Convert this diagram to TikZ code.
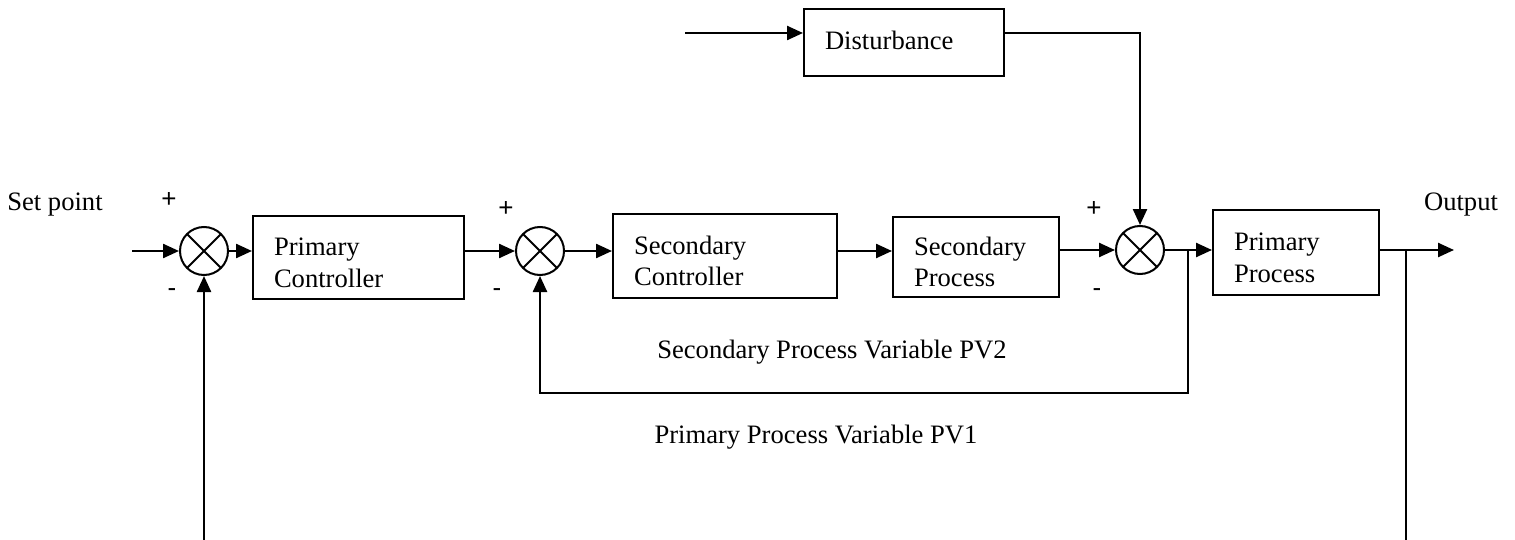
\documentclass[tikz,border=0pt]{standalone}
\usepackage{fontspec}
\setmainfont{Liberation Serif}
\newfontfamily\signfont{Liberation Sans}
\usetikzlibrary{arrows.meta,calc}
\begin{document}
\begin{tikzpicture}[x=0.5pt,y=-0.5pt,
  font=\fontsize{13.3}{15.5}\selectfont,
  line width=1.2pt,
  arr/.style={-{Triangle[length=8pt,width=7pt]}},
  blk/.style={draw,line width=1pt,rectangle,align=left,inner xsep=10.5pt,inner ysep=0pt,
    font=\fontsize{13.3}{15.8}\selectfont},
  sumj/.style={draw,line width=1pt,circle,minimum size=24pt,inner sep=0pt,
    path picture={\draw[line width=1pt] (path picture bounding box.north west) -- (path picture bounding box.south east)
      (path picture bounding box.north east) -- (path picture bounding box.south west);}},
  sign/.style={font=\signfont\fontsize{13}{15}\selectfont,inner sep=0pt},
  lbl/.style={inner sep=0pt}
]
\useasboundingbox (0,0) rectangle (1515,540);

% summing junctions
\node[sumj] (s1) at (204,251) {};
\node[sumj] (s2) at (540,251) {};
\node[sumj] (s3) at (1140,250) {};

% blocks
\node[blk,text width=84.5pt,minimum height=41.5pt] (pc) at (358.5,257.5) {\rule{0pt}{14pt}Primary\\Controller};
\node[blk,text width=91pt,minimum height=42pt] (sc) at (725,256) {\rule{0pt}{14pt}Secondary\\Controller};
\node[blk,text width=62pt,minimum height=40pt] (sp) at (976,257) {\rule{0pt}{14pt}Secondary\\Process};
\node[blk,text width=62pt,minimum height=42.5pt] (pp) at (1296,252.5) {\rule{0pt}{14pt}Primary\\Process};
\node[blk,text width=79pt,minimum height=33.5pt] (dist) at (904,42.5) {\raisebox{2.5pt}{Disturbance}};

% coordinates
\coordinate (spin) at (132,251);
\coordinate (b2) at (1188,250);
\coordinate (b1) at (1406,250);
\coordinate (outend) at (1454,250);
\coordinate (din) at (685,33);
\coordinate (fb2) at (1188,393);
\coordinate (bot1) at (1406,540);
\coordinate (bot0) at (204,540);

% main path
\draw[arr] (spin) -- (s1.west);
\draw[arr] (s1.east) -- (pc.west |- s1.east);
\draw[arr] (pc.east |- s2.west) -- (s2.west);
\draw[arr] (s2.east) -- (sc.west |- s2.east);
\draw[arr] (sc.east |- s2.east) -- (sp.west |- s2.east);
\draw[arr] (sp.east |- s3.west) -- (s3.west);
\draw[arr] (s3.east) -- (pp.west |- s3.east);
\draw[arr] (pp.east |- outend) -- (outend);

% disturbance
\draw[arr] (din) -- (dist.west |- din);
\draw[arr] (dist.east |- din) -| (s3.north);

% secondary loop
\draw[arr] (b2) -- (fb2) -| (s2.south);

% primary loop
\draw (b1) -- (bot1);
\draw[arr] (bot0) -- (s1.south);

% labels
\node[lbl] (lsp) at (55,205) {Set point};
\node[lbl] (lout) at (1461,205) {Output};
\node[lbl] (lpv2) at (832,352) {Secondary Process Variable PV2};
\node[lbl] (lpv1) at (816,437) {Primary Process Variable PV1};

% signs
\node[sign] (p1) at (169,200) {+};
\node[sign] (m1) at (172,293) {-};
\node[sign] (p2) at (506,209) {+};
\node[sign] (m2) at (497,293) {-};
\node[sign] (p3) at (1094,209) {+};
\node[sign] (m3) at (1097,293) {-};
\end{tikzpicture}
\end{document}
